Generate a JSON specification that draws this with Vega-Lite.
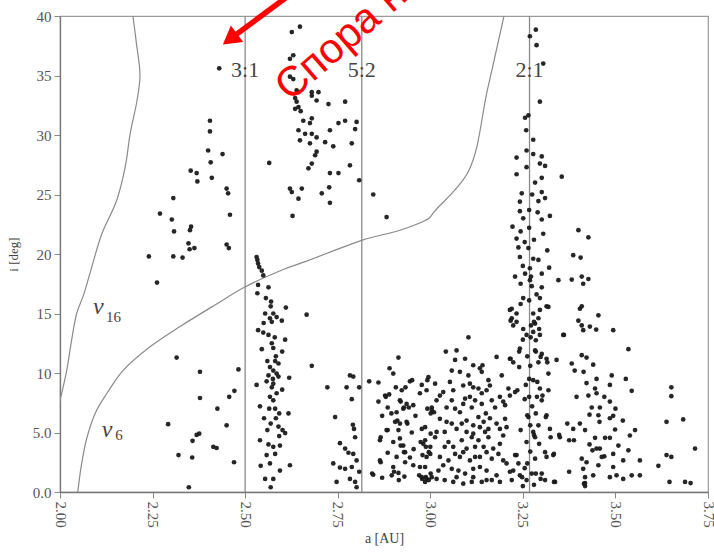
{
"$schema": "https://vega.github.io/schema/vega-lite/v6.json",
"width": 648, "height": 476,
"autosize": {"type": "none"},
"padding": {"left": 60, "top": 16, "right": 6, "bottom": 62},
"background": "white",
"config": {"view": {"stroke": "#9a9a9a", "strokeWidth": 1.2}, "font": "Liberation Serif, Times New Roman, serif"},
"datasets": {
"pts": [
{"a":2.430,"i":35.6},{"a":2.405,"i":31.2},{"a":2.405,"i":30.3},{"a":2.400,"i":28.7},{"a":2.439,"i":28.4},{"a":2.407,"i":27.7},{"a":2.353,"i":27.0},{"a":2.369,"i":26.8},{"a":2.371,"i":26.1},{"a":2.410,"i":26.4},{"a":2.450,"i":25.5},{"a":2.454,"i":25.1},{"a":2.306,"i":24.7},{"a":2.270,"i":23.4},{"a":2.459,"i":23.3},{"a":2.302,"i":22.9},{"a":2.354,"i":22.3},{"a":2.351,"i":22.0},{"a":2.308,"i":21.9},{"a":2.347,"i":20.9},{"a":2.363,"i":20.5},{"a":2.350,"i":20.4},{"a":2.450,"i":20.8},{"a":2.456,"i":20.5},{"a":2.306,"i":19.8},{"a":2.331,"i":19.7},{"a":2.240,"i":19.8},{"a":2.262,"i":17.6},
{"a":2.315,"i":11.3},{"a":2.378,"i":10.1},{"a":2.482,"i":10.3},{"a":2.471,"i":8.5},{"a":2.457,"i":8.0},{"a":2.378,"i":7.9},{"a":2.425,"i":7.0},{"a":2.292,"i":5.7},{"a":2.450,"i":5.6},{"a":2.376,"i":4.9},{"a":2.369,"i":4.8},{"a":2.358,"i":4.3},{"a":2.414,"i":3.8},{"a":2.423,"i":3.7},{"a":2.320,"i":3.1},{"a":2.357,"i":2.9},{"a":2.470,"i":2.5},{"a":2.348,"i":0.4},
{"a":2.531,"i":19.75},{"a":2.533,"i":19.5},{"a":2.535,"i":19.2},{"a":2.538,"i":18.9},{"a":2.545,"i":18.6},{"a":2.549,"i":18.2},{"a":2.535,"i":17.4},{"a":2.563,"i":17.2},{"a":2.533,"i":16.7},{"a":2.556,"i":16.3},{"a":2.569,"i":15.6},{"a":2.610,"i":15.5},{"a":2.554,"i":15.0},{"a":2.576,"i":15.0},{"a":2.567,"i":14.6},{"a":2.585,"i":14.7},{"a":2.599,"i":14.4},{"a":2.572,"i":14.3},{"a":2.666,"i":14.9},{"a":2.535,"i":13.6},{"a":2.549,"i":13.4},{"a":2.563,"i":13.2},{"a":2.608,"i":12.8},{"a":2.572,"i":12.5},{"a":2.576,"i":12.1},{"a":2.583,"i":11.4},{"a":2.581,"i":11.0},{"a":2.680,"i":10.6},{"a":2.567,"i":10.5},{"a":2.576,"i":10.2},{"a":2.585,"i":9.95},{"a":2.563,"i":9.8},{"a":2.590,"i":9.7},{"a":2.619,"i":9.6},{"a":2.558,"i":9.3},{"a":2.576,"i":9.1},{"a":2.531,"i":9.0},{"a":2.572,"i":8.8},{"a":2.567,"i":8.0},{"a":2.576,"i":7.7},{"a":2.540,"i":7.2},{"a":2.581,"i":7.0},{"a":2.592,"i":6.6},{"a":2.617,"i":6.6},{"a":2.551,"i":6.2},{"a":2.583,"i":6.2},{"a":2.569,"i":5.75},{"a":2.601,"i":5.2},{"a":2.608,"i":4.95},{"a":2.592,"i":4.7},{"a":2.540,"i":4.35},{"a":2.563,"i":4.0},{"a":2.576,"i":3.8},{"a":2.594,"i":3.9},{"a":2.558,"i":3.1},{"a":2.581,"i":3.2},{"a":2.567,"i":2.4},{"a":2.542,"i":2.2},{"a":2.621,"i":2.25},{"a":2.594,"i":1.8},{"a":2.554,"i":1.1},{"a":2.576,"i":1.1},{"a":2.569,"i":0.4},
{"a":2.545,"i":12.0},{"a":2.56,"i":11.0},{"a":2.59,"i":10.8},{"a":2.575,"i":9.5},{"a":2.585,"i":8.3},{"a":2.565,"i":7.0},{"a":2.59,"i":5.5},{"a":2.56,"i":5.2},{"a":2.6,"i":8.6},{"a":2.55,"i":14.2},{"a":2.58,"i":13.0},{"a":2.6,"i":11.8},{"a":2.57,"i":16.0},
{"a":2.626,"i":38.65},{"a":2.648,"i":39.1},{"a":2.621,"i":36.4},{"a":2.630,"i":36.7},{"a":2.621,"i":34.9},{"a":2.644,"i":33.6},{"a":2.639,"i":32.8},{"a":2.644,"i":32.35},{"a":2.635,"i":33.1},{"a":2.680,"i":33.6},{"a":2.693,"i":32.9},{"a":2.698,"i":33.6},{"a":2.725,"i":32.6},{"a":2.770,"i":32.8},{"a":2.657,"i":31.2},{"a":2.680,"i":31.4},{"a":2.675,"i":31.0},{"a":2.644,"i":30.4},{"a":2.662,"i":30.1},{"a":2.680,"i":30.1},{"a":2.693,"i":29.8},{"a":2.648,"i":29.55},{"a":2.729,"i":30.4},{"a":2.752,"i":31.0},{"a":2.770,"i":31.2},{"a":2.801,"i":31.1},{"a":2.797,"i":30.5},{"a":2.716,"i":29.4},{"a":2.738,"i":29.05},{"a":2.788,"i":29.3},{"a":2.675,"i":29.3},{"a":2.693,"i":28.6},{"a":2.689,"i":28.3},{"a":2.680,"i":27.6},{"a":2.671,"i":27.2},{"a":2.783,"i":27.45},{"a":2.729,"i":26.8},{"a":2.752,"i":26.8},{"a":2.808,"i":26.2},{"a":2.621,"i":25.5},{"a":2.626,"i":25.2},{"a":2.653,"i":25.5},{"a":2.727,"i":25.6},{"a":2.707,"i":25.1},{"a":2.729,"i":24.3},{"a":2.644,"i":24.65},{"a":2.628,"i":23.2},{"a":2.846,"i":25.0},{"a":2.882,"i":23.1},{"a":2.565,"i":27.65},{"a":2.63,"i":34.7},{"a":2.639,"i":33.75},{"a":2.68,"i":33.3},{"a":2.635,"i":32.2},{"a":2.65,"i":32.0},
{"a":2.743,"i":6.3},{"a":2.783,"i":9.8},{"a":2.792,"i":9.7},{"a":2.722,"i":8.8},{"a":2.774,"i":8.8},{"a":2.808,"i":8.8},{"a":2.835,"i":9.3},{"a":2.788,"i":7.8},{"a":2.791,"i":5.65},{"a":2.794,"i":5.3},{"a":2.797,"i":4.6},{"a":2.756,"i":4.1},{"a":2.770,"i":3.65},{"a":2.779,"i":3.3},{"a":2.792,"i":3.2},{"a":2.801,"i":2.65},{"a":2.738,"i":2.4},{"a":2.756,"i":2.05},{"a":2.770,"i":1.95},{"a":2.788,"i":2.1},{"a":2.808,"i":1.7},{"a":2.747,"i":0.85},{"a":2.783,"i":1.1},{"a":2.797,"i":0.85},{"a":2.801,"i":0.4},{"a":2.846,"i":1.45},{"a":2.864,"i":2.65},{"a":2.864,"i":4.35},{"a":2.882,"i":5.2},{"a":2.878,"i":8.1},{"a":2.889,"i":8.2},{"a":2.914,"i":11.3},{"a":2.900,"i":9.95},{"a":2.907,"i":8.8},{"a":2.923,"i":8.55},{"a":2.945,"i":9.3},{"a":2.918,"i":7.7},{"a":2.936,"i":7.4},{"a":2.927,"i":7.0},{"a":2.909,"i":6.7},{"a":2.954,"i":7.3},{"a":2.905,"i":5.9},{"a":2.918,"i":5.75},{"a":2.936,"i":5.9},{"a":2.914,"i":5.2},{"a":2.918,"i":4.5},{"a":2.927,"i":3.9},{"a":2.932,"i":3.35},{"a":2.909,"i":2.95},{"a":2.932,"i":2.5},{"a":2.900,"i":2.1},{"a":2.914,"i":1.6},{"a":2.896,"i":1.4},{"a":2.977,"i":9.0},{"a":2.995,"i":9.65},{"a":2.972,"i":8.3},{"a":3.004,"i":6.9},{"a":2.977,"i":5.3},{"a":2.986,"i":4.35},{"a":3.0,"i":3.8},{"a":2.990,"i":2.95},{"a":2.954,"i":2.25},{"a":2.972,"i":2.1},{"a":2.977,"i":1.25},{"a":2.990,"i":1.1},{"a":3.004,"i":1.25},{"a":2.986,"i":0.85},
{"a":2.880,"i":8.0},{"a":2.885,"i":7.1},{"a":2.920,"i":7.6},{"a":2.929,"i":7.1},{"a":2.911,"i":6.0},{"a":2.938,"i":5.75},{"a":2.866,"i":4.6},{"a":2.885,"i":5.2},{"a":2.920,"i":3.9},{"a":2.929,"i":3.35},{"a":2.866,"i":2.5},{"a":2.843,"i":1.55},{"a":2.902,"i":1.7},{"a":2.915,"i":1.0},{"a":2.970,"i":1.4},{"a":2.978,"i":1.1},{"a":2.988,"i":1.25},{"a":2.996,"i":1.0},{"a":3.001,"i":1.55},{"a":2.974,"i":4.2},{"a":2.988,"i":3.8},{"a":2.996,"i":3.35},{"a":2.979,"i":3.1},{"a":3.001,"i":4.9},{"a":2.992,"i":7.0},{"a":3.001,"i":6.6},{"a":2.992,"i":9.4},{"a":2.942,"i":7.1},{"a":2.933,"i":8.8},{"a":2.951,"i":9.4},
{"a":3.103,"i":13.0},{"a":3.042,"i":11.8},{"a":3.071,"i":11.9},{"a":3.067,"i":11.1},{"a":3.094,"i":11.2},{"a":3.058,"i":10.2},{"a":3.080,"i":10.1},{"a":3.116,"i":10.65},{"a":3.134,"i":10.4},{"a":3.139,"i":10.1},{"a":3.103,"i":9.8},{"a":3.157,"i":9.4},{"a":3.179,"i":11.35},{"a":3.013,"i":9.1},{"a":2.990,"i":8.55},{"a":3.035,"i":8.4},{"a":3.053,"i":9.25},{"a":3.062,"i":8.55},{"a":3.089,"i":8.95},{"a":3.107,"i":9.1},{"a":3.116,"i":8.8},{"a":3.130,"i":8.7},{"a":3.139,"i":8.3},{"a":3.094,"i":7.85},{"a":3.058,"i":7.7},{"a":3.044,"i":7.1},{"a":3.004,"i":7.1},{"a":3.010,"i":6.7},{"a":3.067,"i":7.0},{"a":3.080,"i":6.7},{"a":3.112,"i":7.1},{"a":3.139,"i":7.4},{"a":3.166,"i":7.7},{"a":3.188,"i":8.0},{"a":3.202,"i":7.3},{"a":3.215,"i":8.1},{"a":3.175,"i":7.1},{"a":3.150,"i":6.6},{"a":3.130,"i":6.3},{"a":3.144,"i":5.9},{"a":3.161,"i":6.2},{"a":3.179,"i":5.75},{"a":3.188,"i":5.3},{"a":3.157,"i":5.3},{"a":3.134,"i":5.45},{"a":3.116,"i":5.6},{"a":3.098,"i":6.0},{"a":3.058,"i":5.75},{"a":3.071,"i":5.3},{"a":3.039,"i":5.05},{"a":3.017,"i":5.05},{"a":2.986,"i":5.45},{"a":3.013,"i":4.6},{"a":3.049,"i":4.2},{"a":3.085,"i":4.35},{"a":3.112,"i":4.6},{"a":3.130,"i":4.35},{"a":3.157,"i":4.6},{"a":3.170,"i":3.65},{"a":3.144,"i":3.8},{"a":3.121,"i":3.8},{"a":3.098,"i":3.65},{"a":3.067,"i":3.2},{"a":3.039,"i":3.8},{"a":3.035,"i":2.25},{"a":3.058,"i":1.95},{"a":3.076,"i":1.8},{"a":3.094,"i":1.55},{"a":3.116,"i":1.95},{"a":3.134,"i":2.1},{"a":3.152,"i":1.8},{"a":3.166,"i":2.8},{"a":3.184,"i":3.2},{"a":3.197,"i":2.65},{"a":3.215,"i":1.7},{"a":3.229,"i":3.1},{"a":3.238,"i":2.4},{"a":3.242,"i":1.4},{"a":3.220,"i":1.0},{"a":3.188,"i":0.85},{"a":3.166,"i":1.0},{"a":3.139,"i":0.85},{"a":3.112,"i":0.85},{"a":3.089,"i":0.7},{"a":3.062,"i":0.85},{"a":3.039,"i":1.0},{"a":3.017,"i":1.1},{"a":3.215,"i":11.2},{"a":3.224,"i":10.9},{"a":3.211,"i":8.7},{"a":3.229,"i":8.4},{"a":3.197,"i":7.6},{"a":3.193,"i":9.8},{"a":3.141,"i":10.65},
{"a":2.981,"i":4.05},{"a":3.0,"i":3.2},{"a":2.986,"i":2.1},{"a":3.026,"i":2.95},{"a":3.022,"i":1.8},{"a":3.080,"i":2.95},{"a":3.107,"i":2.65},{"a":3.121,"i":2.95},{"a":3.134,"i":2.95},{"a":3.152,"i":3.35},{"a":3.188,"i":4.05},{"a":3.197,"i":4.75},{"a":3.206,"i":5.45},{"a":3.202,"i":6.15},{"a":3.152,"i":8.55},{"a":3.161,"i":8.95},{"a":3.107,"i":8.0},{"a":3.121,"i":7.7},{"a":3.026,"i":8.1},{"a":3.017,"i":7.7},{"a":3.089,"i":7.4},{"a":3.026,"i":6.15},{"a":3.044,"i":5.9},{"a":3.085,"i":5.75},{"a":3.098,"i":5.05},{"a":3.116,"i":4.9},{"a":3.148,"i":5.05},{"a":3.062,"i":3.8},{"a":3.089,"i":3.35},{"a":3.049,"i":2.65},{"a":3.071,"i":1.25},{"a":3.116,"i":1.25},{"a":3.152,"i":1.0},{"a":3.179,"i":1.4},{"a":3.206,"i":2.4},
{"a":3.25,"i":12.8},{"a":3.262,"i":11.4},{"a":3.27,"i":10.6},{"a":3.258,"i":9.0},{"a":3.275,"i":7.2},{"a":3.255,"i":7.8},{"a":3.27,"i":5.6},{"a":3.26,"i":4.2},{"a":3.27,"i":3.4},{"a":3.255,"i":2.0},{"a":3.28,"i":0.6},{"a":3.25,"i":0.5},{"a":3.265,"i":20.5},{"a":3.255,"i":21.0},{"a":3.28,"i":21.2},{"a":3.25,"i":19.0},{"a":3.29,"i":23.5},{"a":3.275,"i":25.0},
{"a":3.47,"i":8.0},{"a":3.5,"i":7.0},{"a":3.43,"i":6.5},{"a":3.47,"i":3.0},{"a":3.43,"i":4.0},{"a":3.52,"i":6.0},
{"a":2.86,"i":7.6},{"a":2.87,"i":6.4},{"a":2.895,"i":6.6},{"a":2.9,"i":4.2},{"a":2.885,"i":3.3},{"a":2.87,"i":1.2},{"a":2.93,"i":1.3},{"a":2.95,"i":5.0},{"a":2.96,"i":6.4},{"a":2.945,"i":2.9},{"a":2.955,"i":3.6},{"a":2.89,"i":10.4},{"a":2.86,"i":9.2},
{"a":3.215,"i":15.3},{"a":3.220,"i":14.6},{"a":3.233,"i":14.3},{"a":3.224,"i":14.0},{"a":3.251,"i":13.7},{"a":3.260,"i":13.2},{"a":3.278,"i":13.45},{"a":3.283,"i":14.15},{"a":3.292,"i":14.6},{"a":3.278,"i":15.0},{"a":3.296,"i":15.3},{"a":3.319,"i":15.55},{"a":3.359,"i":13.2},{"a":3.242,"i":12.05},{"a":3.283,"i":11.9},{"a":3.301,"i":11.6},{"a":3.314,"i":11.2},{"a":3.341,"i":11.1},{"a":3.292,"i":10.9},{"a":3.319,"i":9.95},{"a":3.278,"i":9.4},{"a":3.296,"i":8.7},{"a":3.319,"i":8.55},{"a":3.288,"i":8.0},{"a":3.301,"i":7.7},{"a":3.265,"i":6.3},{"a":3.314,"i":6.45},{"a":3.292,"i":5.6},{"a":3.323,"i":5.3},{"a":3.278,"i":5.05},{"a":3.283,"i":4.6},{"a":3.350,"i":4.6},{"a":3.310,"i":3.35},{"a":3.332,"i":3.1},{"a":3.283,"i":2.8},{"a":3.274,"i":1.55},{"a":3.301,"i":1.55},{"a":3.310,"i":1.0},{"a":3.337,"i":0.85},{"a":3.260,"i":1.0},
{"a":3.285,"i":38.85},{"a":3.269,"i":38.3},{"a":3.287,"i":37.55},{"a":3.305,"i":36.0},{"a":3.296,"i":32.8},{"a":3.256,"i":31.45},{"a":3.265,"i":31.65},{"a":3.259,"i":30.4},{"a":3.278,"i":29.6},{"a":3.260,"i":28.7},{"a":3.278,"i":28.4},{"a":3.233,"i":28.1},{"a":3.301,"i":28.2},{"a":3.296,"i":27.6},{"a":3.310,"i":27.4},{"a":3.260,"i":27.3},{"a":3.233,"i":26.7},{"a":3.355,"i":26.5},{"a":3.301,"i":26.4},{"a":3.283,"i":26.0},{"a":3.301,"i":25.2},{"a":3.247,"i":25.1},{"a":3.310,"i":24.7},{"a":3.242,"i":24.4},{"a":3.292,"i":24.45},{"a":3.267,"i":23.7},{"a":3.242,"i":23.6},{"a":3.323,"i":23.2},{"a":3.251,"i":23.0},{"a":3.301,"i":22.9},{"a":3.222,"i":22.3},{"a":3.267,"i":22.2},{"a":3.244,"i":21.9},{"a":3.400,"i":22.0},{"a":3.305,"i":21.7},{"a":3.427,"i":21.4},{"a":3.233,"i":21.3},{"a":3.238,"i":20.55},{"a":3.316,"i":20.3},{"a":3.242,"i":19.75},{"a":3.278,"i":19.6},{"a":3.292,"i":19.5},{"a":3.386,"i":19.9},{"a":3.406,"i":19.7},{"a":3.321,"i":18.85},{"a":3.269,"i":18.8},{"a":3.256,"i":18.35},{"a":3.229,"i":18.1},{"a":3.301,"i":18.35},{"a":3.244,"i":17.5},{"a":3.269,"i":17.8},{"a":3.346,"i":17.8},{"a":3.382,"i":17.85},{"a":3.409,"i":18.1},{"a":3.427,"i":17.9},{"a":3.274,"i":17.3},{"a":3.301,"i":17.2},{"a":3.287,"i":16.6},{"a":3.251,"i":16.3},{"a":3.296,"i":16.3},{"a":3.220,"i":15.4},{"a":3.314,"i":15.6},{"a":3.409,"i":15.6},
{"a":3.413,"i":17.5},{"a":3.404,"i":15.4},{"a":3.454,"i":14.85},{"a":3.400,"i":14.4},{"a":3.409,"i":14.0},{"a":3.413,"i":13.6},{"a":3.431,"i":13.9},{"a":3.448,"i":13.65},{"a":3.361,"i":13.2},{"a":3.494,"i":13.6},{"a":3.535,"i":12.0},{"a":3.409,"i":11.5},{"a":3.422,"i":11.3},{"a":3.440,"i":10.7},{"a":3.382,"i":10.8},{"a":3.390,"i":10.2},{"a":3.414,"i":10.1},{"a":3.449,"i":9.5},{"a":3.490,"i":9.8},{"a":3.485,"i":9.0},{"a":3.528,"i":9.5},{"a":3.422,"i":9.15},{"a":3.445,"i":8.7},{"a":3.544,"i":8.5},{"a":3.395,"i":8.0},{"a":3.427,"i":8.1},{"a":3.449,"i":8.3},{"a":3.485,"i":7.6},{"a":3.436,"i":7.1},{"a":3.458,"i":7.1},{"a":3.454,"i":6.45},{"a":3.485,"i":6.2},{"a":3.494,"i":6.4},{"a":3.457,"i":5.9},{"a":3.404,"i":5.75},{"a":3.386,"i":5.3},{"a":3.418,"i":5.2},{"a":3.375,"i":4.35},{"a":3.445,"i":4.55},{"a":3.472,"i":4.55},{"a":3.485,"i":4.55},{"a":3.499,"i":5.25},{"a":3.539,"i":4.75},{"a":3.553,"i":5.2},{"a":3.449,"i":3.65},{"a":3.458,"i":3.65},{"a":3.508,"i":3.9},{"a":3.535,"i":3.5},{"a":3.409,"i":2.8},{"a":3.422,"i":2.5},{"a":3.463,"i":2.95},{"a":3.494,"i":3.2},{"a":3.521,"i":2.65},{"a":3.566,"i":2.65},{"a":3.454,"i":2.25},{"a":3.494,"i":2.1},{"a":3.616,"i":2.2},{"a":3.375,"i":1.7},{"a":3.413,"i":1.95},{"a":3.440,"i":1.4},{"a":3.485,"i":1.25},{"a":3.503,"i":1.4},{"a":3.521,"i":1.1},{"a":3.544,"i":1.4},{"a":3.566,"i":1.4},{"a":3.418,"i":1.25},{"a":3.418,"i":0.75},{"a":3.418,"i":0.5},{"a":3.638,"i":5.9},{"a":3.683,"i":6.1},{"a":3.651,"i":8.8},{"a":3.651,"i":8.05},{"a":3.715,"i":3.65},{"a":3.638,"i":3.1},{"a":3.651,"i":2.95},{"a":3.646,"i":0.85},{"a":3.688,"i":0.85},{"a":3.703,"i":0.75},
{"a":3.370,"i":5.75},{"a":3.388,"i":4.35},{"a":3.348,"i":4.8},{"a":3.334,"i":3.2},{"a":3.334,"i":0.85},{"a":3.415,"i":0.7},{"a":3.438,"i":3.5},
{"a":3.272,"i":18.1},{"a":3.244,"i":15.8},{"a":3.267,"i":16.1},{"a":3.233,"i":15.0},{"a":3.217,"i":14.4},{"a":3.272,"i":14.0},{"a":3.280,"i":14.3},{"a":3.294,"i":13.7},{"a":3.271,"i":13.0},{"a":3.285,"i":12.75},{"a":3.296,"i":13.2},{"a":3.240,"i":11.8},{"a":3.217,"i":11.2},{"a":3.240,"i":10.5},{"a":3.285,"i":11.8},{"a":3.298,"i":11.35},{"a":3.316,"i":10.9},{"a":3.267,"i":9.5},{"a":3.289,"i":9.25},{"a":3.235,"i":8.55},{"a":3.267,"i":8.0},{"a":3.303,"i":8.1},{"a":3.262,"i":6.45},{"a":3.285,"i":6.6},{"a":3.312,"i":6.3},{"a":3.244,"i":5.2},{"a":3.280,"i":4.8},{"a":3.294,"i":4.05},{"a":3.233,"i":3.1},{"a":3.262,"i":2.4},{"a":3.285,"i":1.55},{"a":3.298,"i":1.1},{"a":3.224,"i":1.8},{"a":3.248,"i":1.25},{"a":3.314,"i":2.95},{"a":3.325,"i":4.6}
],
"curves": [
{"c":"nu16","k":1,"a":2.197,"i":40},{"c":"nu16","k":2,"a":2.206,"i":37.8},{"c":"nu16","k":3,"a":2.216,"i":35},{"c":"nu16","k":4,"a":2.208,"i":32.9},{"c":"nu16","k":5,"a":2.19,"i":30.2},{"c":"nu16","k":6,"a":2.176,"i":27.3},{"c":"nu16","k":7,"a":2.153,"i":24.5},{"c":"nu16","k":8,"a":2.113,"i":21.7},{"c":"nu16","k":9,"a":2.083,"i":18.6},{"c":"nu16","k":10,"a":2.063,"i":16.5},{"c":"nu16","k":11,"a":2.045,"i":15},{"c":"nu16","k":12,"a":2.03,"i":12.5},{"c":"nu16","k":13,"a":2.018,"i":10.2},{"c":"nu16","k":14,"a":2.0,"i":7.7},{"c":"nu16","k":15,"a":1.99,"i":6.5},
{"c":"nu6","k":1,"a":2.048,"i":0},{"c":"nu6","k":2,"a":2.058,"i":2.3},{"c":"nu6","k":3,"a":2.073,"i":4.6},{"c":"nu6","k":4,"a":2.098,"i":6.8},{"c":"nu6","k":5,"a":2.127,"i":8.3},{"c":"nu6","k":6,"a":2.17,"i":10.2},{"c":"nu6","k":7,"a":2.243,"i":12.2},{"c":"nu6","k":8,"a":2.324,"i":13.9},{"c":"nu6","k":9,"a":2.423,"i":15.8},{"c":"nu6","k":10,"a":2.498,"i":17.2},{"c":"nu6","k":11,"a":2.603,"i":18.7},{"c":"nu6","k":12,"a":2.666,"i":19.4},{"c":"nu6","k":13,"a":2.815,"i":21.15},{"c":"nu6","k":14,"a":2.918,"i":22.0},{"c":"nu6","k":15,"a":2.985,"i":22.8},{"c":"nu6","k":16,"a":2.998,"i":23.05},{"c":"nu6","k":17,"a":3.012,"i":23.6},{"c":"nu6","k":18,"a":3.104,"i":27.0},{"c":"nu6","k":19,"a":3.154,"i":33.75},{"c":"nu6","k":20,"a":3.199,"i":40}
],
"res": [{"a":2.5,"lab":"3:1"},{"a":2.815,"lab":"5:2"},{"a":3.268,"lab":"2:1"}],
"nu": [{"a":2.089,"i":15.0,"t":"ν"},{"a":2.113,"i":4.62,"t":"ν"}],
"nusub": [{"a":2.124,"i":14.26,"t":"16"},{"a":2.149,"i":4.34,"t":"6"}],
"arrow": [{"a":2.643,"i":42.3,"k":1},{"a":2.459,"i":38.06,"k":2}],
"head": [{"a":2.459,"i":38.06}],
"note": [{"a":2.621,"i":32.75,"t":"Спора на"}]
},
"layer": [
{"data": {"name": "res"}, "mark": {"type": "rule", "color": "#8a8a8a", "strokeWidth": 1.3},
 "encoding": {"x": {"field": "a", "type": "quantitative"}}},
{"data": {"name": "curves"}, "mark": {"type": "line", "color": "#8a8a8a", "strokeWidth": 1.2, "clip": true, "interpolate": "catmull-rom"},
 "encoding": {"x": {"field": "a", "type": "quantitative"}, "y": {"field": "i", "type": "quantitative"}, "detail": {"field": "c"}, "order": {"field": "k"}}},
{"data": {"name": "pts"}, "mark": {"type": "circle", "color": "#1a1a1a", "size": 22, "opacity": 0.95},
 "encoding": {
  "x": {"field": "a", "type": "quantitative", "scale": {"domain": [2.0, 3.75], "nice": false, "zero": false},
   "axis": {"title": "a [AU]", "values": [2.0, 2.25, 2.5, 2.75, 3.0, 3.25, 3.5, 3.75], "format": ".2f", "labelAngle": 90, "labelFont": "Liberation Serif, Times New Roman, serif", "labelFontSize": 15, "labelColor": "#555", "labelPadding": 3, "tickSize": 6, "tickColor": "#888", "domainColor": "#777", "domainWidth": 1.3, "grid": false, "titleFont": "Liberation Serif, Times New Roman, serif", "titleFontSize": 14, "titleFontWeight": "normal", "titleColor": "#444", "titlePadding": 4, "labelFlush": false}},
  "y": {"field": "i", "type": "quantitative", "scale": {"domain": [0, 40], "nice": false},
   "axis": {"title": "i [deg]", "values": [0, 5, 10, 15, 20, 25, 30, 35, 40], "labelExpr": "datum.value < 10 ? format(datum.value, '.1f') : format(datum.value, 'd')", "labelFont": "Liberation Serif, Times New Roman, serif", "labelFontSize": 15, "labelColor": "#555", "labelPadding": 3, "tickSize": 6, "tickColor": "#888", "domainColor": "#777", "domainWidth": 1.3, "grid": false, "titleFont": "Liberation Serif, Times New Roman, serif", "titleFontSize": 13, "titleFontWeight": "normal", "titleColor": "#444", "titlePadding": 12, "labelFlush": false}}
 }},
{"data": {"name": "res"}, "mark": {"type": "text", "font": "Liberation Serif, Times New Roman, serif", "fontSize": 22, "color": "#444", "align": "center", "baseline": "middle"},
 "encoding": {"x": {"field": "a", "type": "quantitative"}, "y": {"datum": 35.5}, "text": {"field": "lab"}}},
{"data": {"name": "nu"}, "mark": {"type": "text", "font": "Liberation Serif, Times New Roman, serif", "fontStyle": "italic", "fontSize": 24, "color": "#444", "align": "left", "baseline": "alphabetic"},
 "encoding": {"x": {"field": "a", "type": "quantitative"}, "y": {"field": "i", "type": "quantitative"}, "text": {"field": "t"}}},
{"data": {"name": "nusub"}, "mark": {"type": "text", "font": "Liberation Serif, Times New Roman, serif", "fontSize": 15, "color": "#444", "align": "left", "baseline": "alphabetic"},
 "encoding": {"x": {"field": "a", "type": "quantitative"}, "y": {"field": "i", "type": "quantitative"}, "text": {"field": "t"}}},
{"data": {"name": "arrow"}, "mark": {"type": "line", "color": "#ff0000", "strokeWidth": 5.5, "clip": false},
 "encoding": {"x": {"field": "a", "type": "quantitative"}, "y": {"field": "i", "type": "quantitative"}, "order": {"field": "k"}}},
{"data": {"name": "head"}, "mark": {"type": "point", "shape": "triangle-up", "filled": true, "color": "#ff0000", "opacity": 1, "size": 420, "angle": 233, "clip": false},
 "encoding": {"x": {"field": "a", "type": "quantitative"}, "y": {"field": "i", "type": "quantitative"}}},
{"data": {"name": "note"}, "mark": {"type": "text", "font": "Liberation Sans, Arial, sans-serif", "fontSize": 42, "color": "#ff0000", "angle": -41, "align": "left", "baseline": "alphabetic", "clip": false},
 "encoding": {"x": {"field": "a", "type": "quantitative"}, "y": {"field": "i", "type": "quantitative"}, "text": {"field": "t"}}}
]
}
